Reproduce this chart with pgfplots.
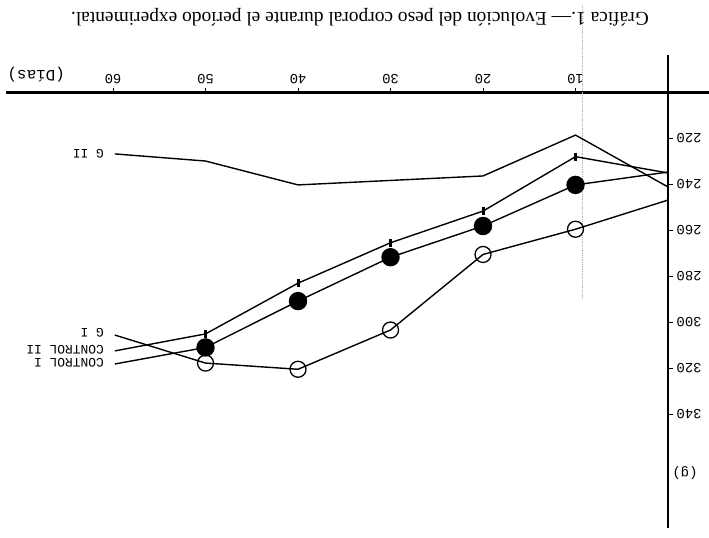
\documentclass[border=0pt]{standalone}
\usepackage{fontspec}
\setmainfont{Liberation Serif}
\setmonofont{Liberation Mono}
\usepackage{pgfplots}
\pgfplotsset{compat=1.18}
\begin{document}
\begin{tikzpicture}
\begin{axis}[
  scale only axis, width=662.3bp, height=435.3bp,
  xmin=0, xmax=71.6, ymin=200, ymax=389.6,
  x dir=reverse, y dir=reverse,
  axis x line=top, axis y line=right,
  axis line style={-, line width=2.4bp, black},
  xtick={10,20,30,40,50,60}, ytick={220,240,260,280,300,320,340},
  tick align=outside, major tick length=5bp,
  tick style={line width=1bp, black},
  xticklabel style={rotate=180, font=\ttfamily\fontsize{14}{15}\selectfont},
  yticklabel style={rotate=180, font=\ttfamily\fontsize{14}{15}\selectfont},
  /pgf/number format/assume math mode=true,
  clip=false,
]
% extensions of the axis lines
\draw[line width=2.4bp] (axis cs:0,200) -- (axis cs:-4.43,200);
\draw[line width=2.4bp] (axis cs:0,200) -- (axis cs:0,183.6);
% faint dotted vertical line
\addplot[gray!60, densely dotted, line width=0.8bp] coordinates {(9.3,162) (9.3,290)};
% G II
\addplot[black, line width=1.4bp, no markers] coordinates {
 (0,241.1) (10,218.5) (20,236.3) (40,240.2) (50,229.8) (59.8,226.7)};
% G I (open circles)
\addplot[black, line width=1.4bp, mark=o, mark size=8bp, mark indices={2,3,4,5,6},
  mark options={line width=1.3bp, fill=none}] coordinates {
 (0,246.8) (10,259.5) (20,270.5) (30,303.4) (40,320.5) (50,317.8) (59.8,305.6)};
% CONTROL I (filled circles)
\addplot[black, line width=1.4bp, mark=*, mark size=8.5bp, mark indices={2,3,4,5,6},
  mark options={fill=black}] coordinates {
 (0,234.6) (10,240.2) (20,258.1) (30,271.7) (40,290.8) (50,311.0) (59.8,318.2)};
% CONTROL II (small bars)
\addplot[black, line width=1.4bp, mark=|, mark size=4bp, mark indices={2,3,4,5,6},
  mark options={line width=3bp}] coordinates {
 (0,235.0) (10,227.9) (20,251.6) (30,265.4) (40,283.0) (50,305.1) (59.8,312.5)};
% labels
\node[rotate=180, anchor=west, font=\ttfamily\fontsize{13}{14}\selectfont] at (axis cs:60.6,226.6) {G II};
\node[rotate=180, anchor=west, font=\ttfamily\fontsize{13}{14}\selectfont] at (axis cs:60.6,304.7) {G I};
\node[rotate=180, anchor=west, font=\ttfamily\fontsize{13}{14}\selectfont] at (axis cs:60.6,312.1) {CONTROL II};
\node[rotate=180, anchor=west, font=\ttfamily\fontsize{13}{14}\selectfont] at (axis cs:60.6,317.7) {CONTROL I};
\node[rotate=180, font=\ttfamily\fontsize{16}{17}\selectfont] at (axis cs:68.3,192.3) {(Días)};
\node[rotate=180, font=\ttfamily\fontsize{14}{15}\selectfont] at (axis cs:-1.84,365.7) {(g)};
\node[rotate=180, font=\fontsize{19.5}{21}\selectfont] at (axis cs:33.3,167.1) {Gráfica 1.— Evolución del peso corporal durante el período experimental.};
\coordinate (bbA) at (axis cs:72.22,159.66);
\coordinate (bbB) at (axis cs:-4.43,393.98);
\end{axis}
\pgfresetboundingbox
\path[use as bounding box] (bbA) rectangle (bbB);
\end{tikzpicture}
\end{document}
